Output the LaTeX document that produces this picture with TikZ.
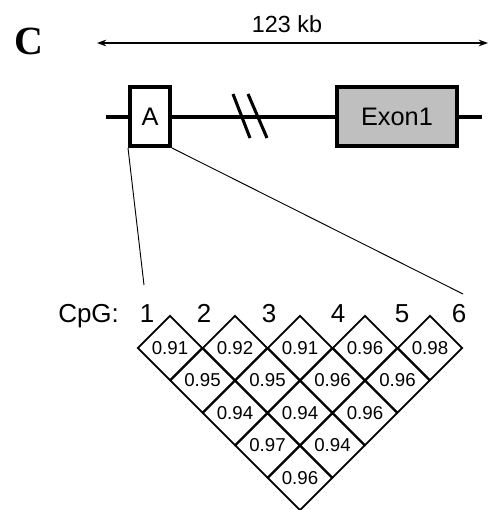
\documentclass[tikz,border=0pt]{standalone}
\usepackage{fontspec}
\setmainfont{Liberation Sans}
\newfontfamily\serifbf{Liberation Serif}
\usetikzlibrary{shapes.geometric,arrows.meta}
\begin{document}
\begin{tikzpicture}[x=0.75pt,y=-0.75pt,
  cell/.style={draw, diamond, minimum width=48.75pt, minimum height=48.75pt, inner sep=0pt, line width=1.4pt, font=\fontsize{14}{14}\selectfont},
  genebox/.style={draw, line width=3pt, inner sep=0pt, font=\fontsize{19}{19}\selectfont},
  lbl/.style={font=\fontsize{19.5}{20}\selectfont, inner sep=0pt, anchor=base},
  thinline/.style={line width=0.7pt},
  geneline/.style={line width=3pt}]
\useasboundingbox (0,0) rectangle (489,510);

% panel letter and scale
\node[font=\serifbf\bfseries\fontsize{30}{30}\selectfont, inner sep=0pt, anchor=base west] (C) at (14,55) {C};
\coordinate (al) at (97,43);
\coordinate (ar) at (488,43);
\draw[line width=1.1pt, {Stealth[length=7pt,width=5pt]}-{Stealth[length=7pt,width=5pt]}] (al) -- (ar);
\node[font=\fontsize{17.5}{18}\selectfont, inner sep=0pt, anchor=base] (kb) at (287,33) {123 kb};

% gene
\node[genebox, minimum width=30pt, minimum height=44.25pt] (A) at (150,116.5) {A};
\node[genebox, fill=black!25, minimum width=90pt, minimum height=44.25pt] (E) at (397,116.5) {Exon1};
\coordinate (g0) at (106,116.5);
\coordinate (g1) at (482,116.5);
\draw[geneline] (g0) -- (A.west);
\draw[geneline] (A.east) -- (E.west);
\draw[geneline] (E.east) -- (g1);
\draw[line width=2.3pt] (233,94) -- (250,138);
\draw[line width=2.3pt] (248,94) -- (267,138);

% labels
\node[lbl, anchor=base west] (cpg) at (58,322) {CpG:};
\foreach \n/\x in {1/147,2/204,3/269,4/338,5/402,6/459}
  \node[lbl] (n\n) at (\x,322) {\n};

% zoom lines
\coordinate (z1) at (144,285);
\coordinate (z6) at (463,294);
\draw[thinline] (A.south west) -- (z1);
\draw[thinline] (A.south east) -- (z6);

% LD diamonds
\foreach \r/\vals in {0/{0.91,0.92,0.91,0.96,0.98},1/{0.95,0.95,0.96,0.96},2/{0.94,0.94,0.96},3/{0.97,0.94},4/{0.96}} {
  \foreach \v [count=\i from 0] in \vals {
    \node[cell] (c\r\i) at ({170+65*\i+32.5*\r},{348+32.5*\r}) {\v};
  }
}
\end{tikzpicture}
\end{document}
